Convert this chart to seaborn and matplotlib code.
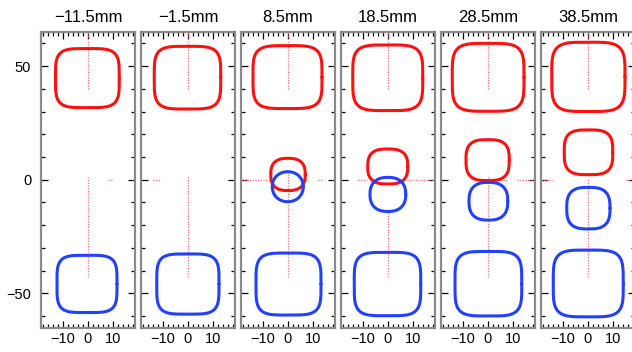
import numpy as np
import matplotlib
matplotlib.use("Agg")
import matplotlib.pyplot as plt
import seaborn as sns
from matplotlib.ticker import MultipleLocator

sns.set_style("ticks")
plt.rcParams['font.family'] = ['Liberation Sans', 'DejaVu Sans']
plt.rcParams['text.color'] = 'black'
plt.rcParams['xtick.labelcolor'] = 'black'
plt.rcParams['ytick.labelcolor'] = 'black'

nan = np.nan

# slice positions along the beam
z_labels = ["\u221211.5mm", "\u22121.5mm", "8.5mm", "18.5mm", "28.5mm", "38.5mm"]

# outline bounds (mm): left, right, bottom, top
red_top_x0 = [-13.0, -13.5, -14.0, -14.1, -14.3, -14.5]
red_top_x1 = [12.5, 13.1, 13.6, 13.9, 14.4, 14.8]
red_top_y0 = [31.7, 31.1, 31.3, 30.4, 30.1, 30.0]
red_top_y1 = [57.7, 58.7, 59.0, 59.3, 60.0, 60.5]

blue_bot_x0 = [-12.4, -12.5, -12.8, -13.5, -13.2, -13.9]
blue_bot_x1 = [11.6, 12.4, 13.2, 13.1, 13.5, 14.1]
blue_bot_y0 = [-58.5, -59.2, -59.6, -59.9, -60.0, -60.4]
blue_bot_y1 = [-33.3, -32.7, -32.3, -32.0, -31.6, -31.0]

red_mid_x0 = [nan, nan, -6.9, -8.1, -8.8, -9.5]
red_mid_x1 = [nan, nan, 6.9, 7.9, 8.5, 9.9]
red_mid_y0 = [nan, nan, -4.8, -1.9, -0.4, 2.2]
red_mid_y1 = [nan, nan, 9.4, 13.5, 17.6, 21.9]

blue_mid_x0 = [nan, nan, -6.3, -7.2, -7.6, -8.5]
blue_mid_x1 = [nan, nan, 6.1, 7.1, 7.9, 8.8]
blue_mid_y0 = [nan, nan, -9.7, -14.0, -17.8, -21.7]
blue_mid_y1 = [nan, nan, 3.5, 1.0, -1.2, -3.4]

# squareness of each outline
big_n = 4.2
red_mid_n = [nan, nan, 2.6, 2.8, 3.0, 3.3]
blue_mid_n = [nan, nan, 2.1, 2.4, 2.6, 2.9]

# dotted axis guides: vertical pieces at x=0 (y ranges), horizontal at y=0 (x ranges)
vert_segs = [[(40, 65), (-43, 1)], [(40, 65), (-43, 1)], [(40, 65), (-43, 3)],
             [(40, 65), (-43, -14)], [(40, 65), (-43, 2)], [(40, 65), (-43, 0.5)]]
horiz_segs = [[(8, 10)], [(-14, -11)], [(-18.8, -7), (6, 8), (12, 14)],
              [(-12, -8.5), (7.5, 18.8)], [(1.5, 7.5), (11.5, 18.8)],
              [(-18.8, -14), (15, 18.8)]]

RED = "#ff1010"
BLUE = "#2440ff"
GUIDE = "#ff7070"
FRAME = "#8a8a8a"


def outline(x0, x1, y0, y1, n):
    t = np.linspace(0, 2 * np.pi, 240)
    cx, cy = (x0 + x1) / 2, (y0 + y1) / 2
    a, b = (x1 - x0) / 2, (y1 - y0) / 2
    c, s = np.cos(t), np.sin(t)
    x = cx + a * np.sign(c) * np.abs(c) ** (2 / n)
    y = cy + b * np.sign(s) * np.abs(s) ** (2 / n)
    return x, y


W, H = 632, 352
fig = plt.figure(figsize=(W / 100, H / 100), dpi=100)

for i, lab in enumerate(z_labels):
    left = 41 + 100 * i
    ax = fig.add_axes([left / W, 24 / H, 94 / W, 296 / H])

    for (ya, yb) in vert_segs[i]:
        ax.plot([0, 0], [ya, yb], color=GUIDE, lw=0.9, ls=(0, (1, 1.2)), zorder=1)
    for (xa, xb) in horiz_segs[i]:
        ax.plot([xa, xb], [0, 0], color=GUIDE, lw=0.9, ls=(0, (1, 1.2)), zorder=1)

    shapes = [
        (red_top_x0[i], red_top_x1[i], red_top_y0[i], red_top_y1[i], big_n, RED),
        (blue_bot_x0[i], blue_bot_x1[i], blue_bot_y0[i], blue_bot_y1[i], big_n, BLUE),
        (red_mid_x0[i], red_mid_x1[i], red_mid_y0[i], red_mid_y1[i], red_mid_n[i], RED),
        (blue_mid_x0[i], blue_mid_x1[i], blue_mid_y0[i], blue_mid_y1[i], blue_mid_n[i], BLUE),
    ]
    for x0, x1, y0, y1, n, col in shapes:
        if np.isnan(x0):
            continue
        x, y = outline(x0, x1, y0, y1, n)
        sns.lineplot(x=x, y=y, sort=False, estimator=None, color=col,
                     lw=2.2, ax=ax, zorder=3)

    ax.set_xlim(-18.8, 18.8)
    ax.set_ylim(-65.3, 65)
    ax.xaxis.set_major_locator(MultipleLocator(10))
    ax.xaxis.set_minor_locator(MultipleLocator(2))
    ax.yaxis.set_major_locator(MultipleLocator(50))
    ax.yaxis.set_minor_locator(MultipleLocator(10))
    ax.tick_params(which='both', direction='in', top=True, right=True,
                   color='black', width=0.9, labelsize=10.5, labelcolor='black')
    ax.tick_params(which='major', length=5)
    ax.tick_params(which='minor', length=3)
    ax.tick_params(axis='x', pad=3)
    ax.tick_params(axis='y', pad=7)
    if i > 0:
        ax.tick_params(axis='y', labelleft=False)
    for sp in ax.spines.values():
        sp.set_color(FRAME)
        sp.set_linewidth(1.6)
    ax.set_xlabel("")
    ax.set_ylabel("")
    ax.set_title(lab, fontsize=12, pad=7, color='black')

fig.savefig("out.png", dpi=100)
